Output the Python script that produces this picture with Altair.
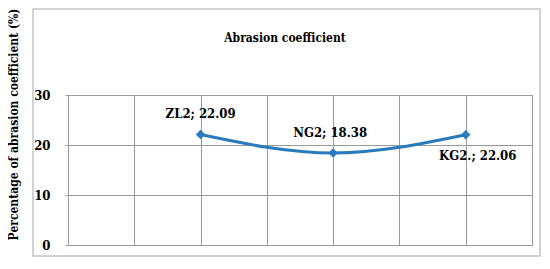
import altair as alt
import pandas as pd

categories = ["ZL2", "NG2", "KG2."]
values = [22.09, 18.38, 22.06]
y_ticks = [0, 10, 20, 30]
x_grid = [0, 0.5, 1, 1.5, 2, 2.5, 3, 3.5]
title_text = "Abrasion coefficient"
y_title = "Percentage of abrasion  coefficient (%)"

df = pd.DataFrame({
    "cat": categories,
    "val": values,
    "pos": list(range(1, len(categories) + 1)),
})
df["label"] = [f"{c}; {v:.2f}" for c, v in zip(categories, values)]
title_df = pd.DataFrame({"t": [title_text]})

FONT = "DejaVu Serif Condensed, DejaVu Serif"
BLUE = "#2A7BBD"
GRID = "#9a9a9a"

x = alt.X("pos:Q", scale=alt.Scale(domain=[0, 3.5], nice=False),
          axis=alt.Axis(values=x_grid, labels=False, ticks=False, title=None,
                        grid=True, gridColor=GRID, domainColor=GRID))
y = alt.Y("val:Q", scale=alt.Scale(domain=[0, 30], nice=False),
          axis=alt.Axis(values=y_ticks, title=y_title,
                        titleFont=FONT, titleFontSize=12, titleFontWeight="bold",
                        titleColor="black", titleX=-55, titleY=29,
                        titleAlign="center", titleBaseline="middle", titleAngle=-90,
                        labelFont=FONT, labelFontSize=13, labelFontWeight="bold",
                        labelColor="black", tickSize=3, tickColor=GRID,
                        labelPadding=15, grid=True, gridColor=GRID,
                        domainColor=GRID))

frame = alt.Chart(title_df).mark_rect(fill=None, stroke="#c4c4c4", strokeWidth=1.5).encode(
    x=alt.value(-35), x2=alt.value(472), y=alt.value(-86), y2=alt.value(161)
)

title = alt.Chart(title_df).mark_text(
    font=FONT, fontSize=12, fontWeight="bold", color="black"
).encode(x=alt.value(217), y=alt.value(-57), text="t:N")

line = alt.Chart(df).mark_line(color=BLUE, strokeWidth=3, interpolate="monotone").encode(x=x, y=y)
pts = alt.Chart(df).mark_point(shape="diamond", filled=True, color=BLUE, size=90, opacity=1).encode(
    x="pos:Q", y="val:Q")

def lab(cat, dx, dy):
    return alt.Chart(df).transform_filter(alt.datum.cat == cat).mark_text(
        font=FONT, fontSize=13, fontWeight="bold", color="black", dx=dx, dy=dy
    ).encode(x="pos:Q", y="val:Q", text="label:N")

chart = alt.layer(
    frame, title, line, pts,
    lab("ZL2", 0, -21), lab("NG2", -3, -20), lab("KG2.", 12, 21),
).properties(
    width=464, height=150,
    autosize=alt.AutoSizeParams(type="none"),
    padding={"left": 60, "top": 87, "right": 9, "bottom": 12},
).configure_view(stroke=GRID, strokeWidth=1)

chart.save("out.html", embed_options={"renderer": "svg", "actions": False})
